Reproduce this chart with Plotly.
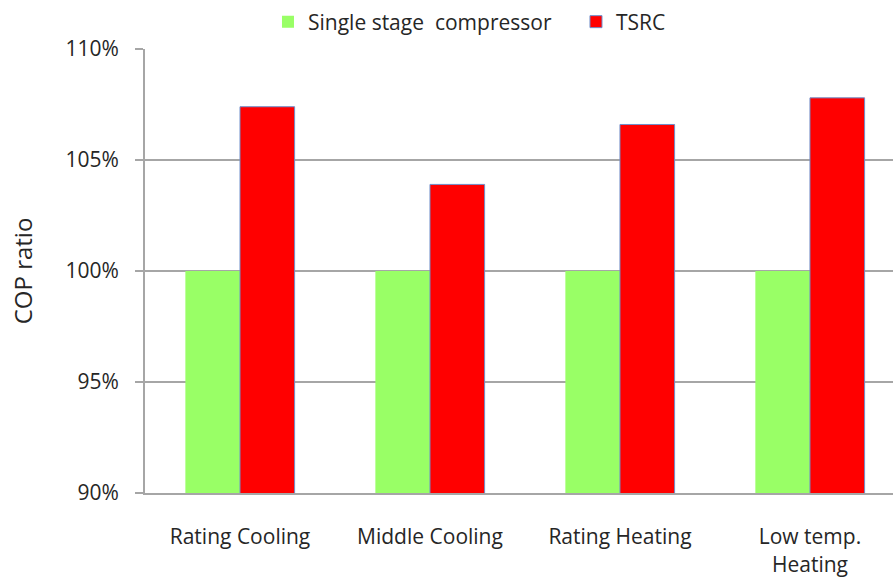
import plotly.graph_objects as go

# Operating conditions and COP ratios (single stage compressor = 100%)
categories = ["Rating Cooling", "Middle Cooling", "Rating Heating", "Low temp.<br>Heating"]
single_stage = [100, 100, 100, 100]
tsrc = [107.4, 103.9, 106.6, 107.8]
y_ticks = [90, 95, 100, 105, 110]
y_tick_labels = ["90%", "95%", "100%", "105%", "110%"]

FONT = "Open Sans, Noto Sans, sans-serif"
TEXT = "#262626"
GRID = "#A6A6A6"

fig = go.Figure()
fig.add_trace(go.Bar(
    name="Single stage  compressor", x=categories, y=single_stage,
    marker=dict(color="#99FF66", line=dict(width=0)),
))
fig.add_trace(go.Bar(
    name="TSRC", x=categories, y=tsrc,
    marker=dict(color="#FF0000", line=dict(color="#6E8FCB", width=1)),
))

fig.update_layout(
    width=893, height=579,
    margin=dict(l=145, r=0, t=49, b=86, autoexpand=False),
    plot_bgcolor="white", paper_bgcolor="white",
    barmode="group", bargap=0.425, bargroupgap=0,
    font=dict(family=FONT, size=21, color=TEXT),
    legend=dict(
        orientation="h", xref="container", yref="container",
        x=0.645, y=0.962, xanchor="center", yanchor="middle",
        font=dict(size=21), itemwidth=30, traceorder="normal",
        entrywidth=263, entrywidthmode="pixels",
    ),
    xaxis=dict(
        type="category", range=[-0.5, 3.437],
        showline=True, linecolor=GRID, linewidth=2,
        ticks="", showgrid=False, tickfont=dict(size=21),
        ticklabelstandoff=24,
    ),
    yaxis=dict(
        range=[90, 110], tickmode="array", tickvals=y_ticks, ticktext=y_tick_labels,
        showline=True, linecolor=GRID, linewidth=2,
        ticks="outside", ticklen=8, tickcolor=GRID, tickwidth=2,
        showgrid=True, gridcolor=GRID, gridwidth=2,
        zeroline=False, ticklabelstandoff=12,
        tickfont=dict(size=21),
        title=dict(text="COP ratio", font=dict(size=24), standoff=26),
    ),
)

fig.write_html("out.html")
